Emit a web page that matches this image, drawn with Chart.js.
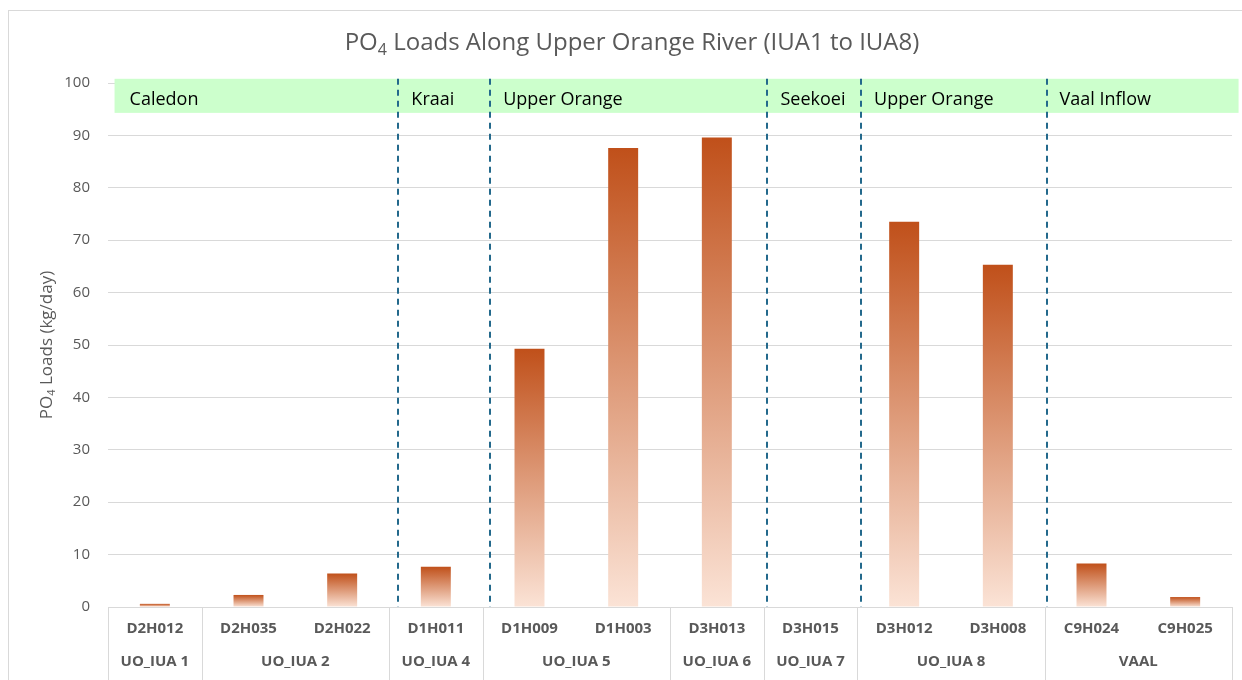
<!DOCTYPE html>
<html>
<head>
<meta charset="utf-8">
<script src="https://cdn.jsdelivr.net/npm/chart.js@4.4.1/dist/chart.umd.min.js"></script>
<style>
  html, body { margin: 0; padding: 0; background: #ffffff; }
  #wrap { width: 1242px; height: 680px; position: relative; }
</style>
</head>
<body>
<div id="wrap"><canvas id="c" width="1242" height="680"></canvas></div>
<script>
// ---- Data ----
const categories = ['D2H012', 'D2H035', 'D2H022', 'D1H011', 'D1H009', 'D1H003', 'D3H013', 'D3H015', 'D3H012', 'D3H008', 'C9H024', 'C9H025'];
const groupLabels = ['UO_IUA 1', 'UO_IUA 2', 'UO_IUA 4', 'UO_IUA 5', 'UO_IUA 6', 'UO_IUA 7', 'UO_IUA 8', 'VAAL'];
const groupSizes = [1, 2, 1, 2, 1, 1, 2, 2];
const po4Loads = [0.6, 2.3, 6.4, 7.7, 49.3, 87.6, 89.6, 0, 73.5, 65.3, 8.3, 1.9];
const regionNames = ['Caledon', 'Kraai', 'Upper Orange', 'Seekoei', 'Upper Orange', 'Vaal Inflow'];
const regionEdges = [-0.43, 2.6, 3.58, 6.54, 7.54, 9.52, 11.57]; // in category units
const bandRange = [94.3, 100.8];
const yMin = 0, yMax = 100, yStep = 10;

const titleMain = 'PO';
const titleSub = '4';
const titleRest = ' Loads Along Upper Orange River (IUA1 to IUA8)';
const yTitleMain = 'PO';
const yTitleSub = '4';
const yTitleRest = ' Loads (kg/day)';

const FONT = "'Open Sans', 'Liberation Sans', sans-serif";
const GRAY = '#595959';
const LINE = '#D9D9D9';

function drawSubText(ctx, parts, size, x, y, align) {
  ctx.font = size + 'px ' + FONT;
  const w1 = ctx.measureText(parts[0]).width;
  const w3 = ctx.measureText(parts[2]).width;
  ctx.font = Math.round(size * 0.65) + 'px ' + FONT;
  const w2 = ctx.measureText(parts[1]).width;
  const total = w1 + w2 + w3;
  let sx = align === 'center' ? x - total / 2 : x;
  ctx.textBaseline = 'middle';
  ctx.textAlign = 'left';
  ctx.font = size + 'px ' + FONT;
  ctx.fillText(parts[0], sx, y);
  ctx.font = Math.round(size * 0.65) + 'px ' + FONT;
  ctx.fillText(parts[1], sx + w1, y + size * 0.3);
  ctx.font = size + 'px ' + FONT;
  ctx.fillText(parts[2], sx + w1 + w2, y);
}

const decorPlugin = {
  id: 'decor',
  beforeDraw(chart) {
    const ctx = chart.ctx;
    ctx.save();
    ctx.strokeStyle = LINE;
    ctx.lineWidth = 1;
    ctx.strokeRect(8.5, 10.5, 1260, 700);
    ctx.restore();
  },
  beforeDatasetsDraw(chart) {
    const ctx = chart.ctx;
    const xs = chart.scales.x, ys = chart.scales.y;
    const catW = (xs.right - xs.left) / categories.length;
    const px = v => xs.left + (v + 0.5) * catW;
    ctx.save();
    const bTop = ys.getPixelForValue(bandRange[1]);
    const bBot = ys.getPixelForValue(bandRange[0]);
    ctx.fillStyle = '#CCFFCC';
    ctx.fillRect(px(regionEdges[0]), bTop, px(regionEdges[regionEdges.length - 1]) - px(regionEdges[0]), bBot - bTop);
    ctx.fillStyle = '#000000';
    ctx.font = '18px ' + FONT;
    ctx.textAlign = 'left';
    ctx.textBaseline = 'middle';
    for (let i = 0; i < regionNames.length; i++) {
      const sx = px(regionEdges[i]) + (i === 0 ? 15 : 13);
      ctx.fillText(regionNames[i], sx, (bTop + bBot) / 2 + 4);
    }
    ctx.strokeStyle = '#23698C';
    ctx.lineWidth = 2;
    ctx.setLineDash([6, 5]);
    const yBase = ys.getPixelForValue(0);
    for (let i = 1; i < regionEdges.length - 1; i++) {
      const x = Math.round(px(regionEdges[i]));
      ctx.beginPath();
      ctx.moveTo(x, bTop);
      ctx.lineTo(x, yBase);
      ctx.stroke();
    }
    ctx.restore();
  },
  afterDraw(chart) {
    const ctx = chart.ctx;
    const xs = chart.scales.x, ys = chart.scales.y;
    const catW = (xs.right - xs.left) / categories.length;
    const yBase = ys.getPixelForValue(0);
    ctx.save();
    ctx.strokeStyle = LINE;
    ctx.lineWidth = 1;
    let idx = 0;
    const edges = [0];
    groupSizes.forEach(s => { idx += s; edges.push(idx); });
    edges.forEach(e => {
      const x = Math.round(xs.left + e * catW) + 0.5;
      ctx.beginPath();
      ctx.moveTo(x, yBase);
      ctx.lineTo(x, 690);
      ctx.stroke();
    });
    ctx.fillStyle = GRAY;
    ctx.font = 'bold 15px ' + FONT;
    ctx.textAlign = 'center';
    ctx.textBaseline = 'middle';
    for (let g = 0; g < groupLabels.length; g++) {
      const cx = xs.left + (edges[g] + edges[g + 1]) / 2 * catW;
      ctx.fillText(groupLabels[g], cx, 662);
    }
    ctx.fillStyle = GRAY;
    drawSubText(ctx, [titleMain, titleSub, titleRest], 24, 632, 43, 'center');
    ctx.translate(47, 345);
    ctx.rotate(-Math.PI / 2);
    drawSubText(ctx, [yTitleMain, yTitleSub, yTitleRest], 17, 0, 0, 'center');
    ctx.restore();
  }
};

function barGradient(c) {
  const chart = c.chart;
  const ys = chart.scales.y;
  if (!ys || !chart.chartArea || c.type !== 'data') return '#C0501A';
  const v = c.raw;
  const top = ys.getPixelForValue(v);
  const bot = ys.getPixelForValue(0);
  if (bot - top < 1) return '#C0501A';
  const g = chart.ctx.createLinearGradient(0, top, 0, bot);
  g.addColorStop(0, '#C0501A');
  g.addColorStop(1, '#FBE3D6');
  return g;
}

new Chart(document.getElementById('c'), {
  type: 'bar',
  data: {
    labels: categories,
    datasets: [{
      data: po4Loads,
      backgroundColor: barGradient,
      borderWidth: 0,
      barPercentage: 0.32,
      categoryPercentage: 1.0
    }]
  },
  options: {
    responsive: false,
    animation: false,
    layout: { padding: { top: 83, right: 10, left: 0, bottom: 0 } },
    plugins: { legend: { display: false }, title: { display: false }, tooltip: { enabled: false } },
    scales: {
      x: {
        grid: { display: false, drawTicks: false },
        border: { display: true, color: LINE, width: 1 },
        ticks: { color: GRAY, font: { family: FONT, size: 15, weight: 'bold' }, padding: 13, maxRotation: 0, autoSkip: false },
        afterFit(s) { s.height = 73; }
      },
      y: {
        min: yMin, max: yMax,
        grid: { color: LINE, drawTicks: false },
        border: { display: false },
        ticks: { stepSize: yStep, color: GRAY, font: { family: FONT, size: 15 }, padding: 18 },
        afterFit(s) { s.width = 108; }
      }
    }
  },
  plugins: [decorPlugin]
});
</script>
</body>
</html>
